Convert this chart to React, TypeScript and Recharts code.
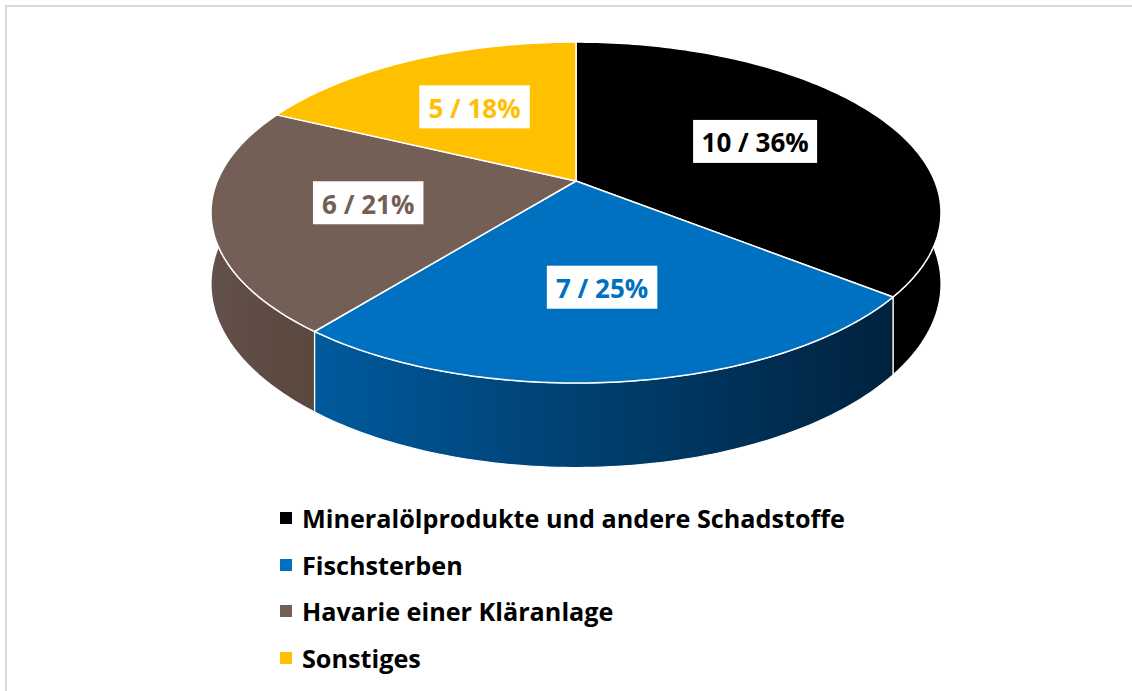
import React from 'react';
import { PieChart, Pie, Cell, Legend } from 'recharts';

const categories = [
  'Mineralölprodukte und andere Schadstoffe',
  'Fischsterben',
  'Havarie einer Kläranlage',
  'Sonstiges',
];
const counts = [10, 7, 6, 5];
const topColors = ['#000000', '#0070c0', '#735f55', '#ffc000'];
const wallLeft = ['#000000', '#005a9d', '#62504a', '#c99700'];
const wallRight = ['#000000', '#00223e', '#5a473d', '#a07800'];

const data = categories.map((name, i) => ({ name, value: counts[i] }));

// fake 3d: perspective tilt of the pie disc
const TILT = 0.185;
const FLAT = 0.459;
const DEPTH = 0.192;
const FONT = '"Open Sans", sans-serif';

function proj(cx: number, cy: number, r: number, deg: number, f: number, dropped = false) {
  const t = (deg * Math.PI) / 180;
  const s = Math.sin(t);
  const w = 1 + TILT * f * s;
  const x = cx + (r * f * Math.cos(t)) / w;
  let y = cy - (r * FLAT * f * s) / w;
  if (dropped) y += (r * DEPTH) / w;
  return [x, y];
}

function arcPoints(cx: number, cy: number, r: number, a1: number, a2: number, dropped = false) {
  const n = Math.max(2, Math.ceil(Math.abs(a2 - a1)));
  const pts: number[][] = [];
  for (let i = 0; i <= n; i++) {
    pts.push(proj(cx, cy, r, a1 + ((a2 - a1) * i) / n, 1, dropped));
  }
  return pts;
}

const toPath = (pts: number[][]) => pts.map((p, i) => `${i ? 'L' : 'M'}${p[0].toFixed(2)},${p[1].toFixed(2)}`).join(' ');

function renderSlice(props: any) {
  const { cx, cy, outerRadius, startAngle, endAngle } = props;
  const name = props.payload?.name ?? props.name;
  const idx = Math.max(0, categories.indexOf(name));
  const hi = Math.max(startAngle, endAngle);
  const lo = Math.min(startAngle, endAngle);

  const walls: React.ReactNode[] = [];
  [-1, 0, 1].forEach((k) => {
    const a = Math.max(lo, -180 + 360 * k);
    const b = Math.min(hi, 360 * k);
    if (b - a > 0.01) {
      const top = arcPoints(cx, cy, outerRadius, b, a);
      const bottom = arcPoints(cx, cy, outerRadius, a, b, true);
      walls.push(
        <path
          key={`w${k}`}
          d={toPath([...top, ...bottom]) + ' Z'}
          fill={`url(#wall-${idx})`}
          stroke="#ffffff"
          strokeWidth={1.2}
          strokeLinejoin="round"
        />
      );
    }
  });

  const face = [[cx, cy], ...arcPoints(cx, cy, outerRadius, startAngle, endAngle)];

  return (
    <g>
      {walls}
      <path d={toPath(face) + ' Z'} fill={topColors[idx]} stroke="#ffffff" strokeWidth={1.5} strokeLinejoin="round" />
    </g>
  );
}

function renderLabel(props: any) {
  const { cx, cy, outerRadius, midAngle, value, percent } = props;
  const name = props.payload?.name ?? props.name;
  const idx = Math.max(0, categories.indexOf(name));
  const [x, y] = proj(cx, cy, outerRadius, midAngle, 0.58);
  const text = `${value} / ${Math.round(percent * 100)}%`;
  const w = text.length * 13.5 + 16;
  return (
    <g>
      <rect x={x - w / 2} y={y - 21.5} width={w} height={43} fill="#ffffff" />
      <text
        x={x}
        y={y + 1}
        textAnchor="middle"
        dominantBaseline="central"
        fill={topColors[idx]}
        style={{ fontFamily: FONT, fontWeight: 700, fontSize: 26 }}
      >
        {text}
      </text>
    </g>
  );
}

function renderLegend() {
  return (
    <div>
      {categories.map((c, i) => (
        <div
          key={c}
          style={{
            display: 'flex',
            alignItems: 'center',
            height: 46.5,
            fontFamily: FONT,
            fontWeight: 700,
            fontSize: 25.2,
            color: '#000000',
            whiteSpace: 'nowrap',
          }}
        >
          <span style={{ display: 'inline-block', width: 12, height: 12, background: topColors[i], marginRight: 10 }} />
          {c}
        </div>
      ))}
    </div>
  );
}

export default function App() {
  return (
    <div style={{ position: 'absolute', left: 0, top: 0, width: 1132, height: 691, overflow: 'hidden', background: '#ffffff' }}>
      <div
        style={{
          position: 'absolute',
          left: 5,
          top: 5,
          width: 1160,
          height: 720,
          border: '2px solid #d9d9d9',
        }}
      />
      <PieChart
        width={1132}
        height={691}
        margin={{ top: 0, right: 0, bottom: 0, left: 0 }}
        style={{ position: 'absolute', left: 0, top: 0 }}
      >
        <defs>
          {categories.map((c, i) => (
            <linearGradient key={c} id={`wall-${i}`} x1="0" y1="0" x2="1" y2="0">
              <stop offset="0%" stopColor={wallLeft[i]} />
              <stop offset="100%" stopColor={wallRight[i]} />
            </linearGradient>
          ))}
        </defs>
        <Pie
          data={data}
          dataKey="value"
          nameKey="name"
          cx={576}
          cy={181}
          outerRadius={358.7}
          startAngle={90}
          endAngle={-270}
          stroke="none"
          shape={renderSlice}
          label={renderLabel}
          labelLine={false}
          isAnimationActive={false}
        >
          {data.map((d, i) => (
            <Cell key={d.name} fill={topColors[i]} />
          ))}
        </Pie>
        <Legend
          layout="horizontal"
          verticalAlign="bottom"
          align="left"
          content={renderLegend}
          wrapperStyle={{ left: 280, top: 495, bottom: 'auto', width: 700 }}
        />
      </PieChart>
    </div>
  );
}
